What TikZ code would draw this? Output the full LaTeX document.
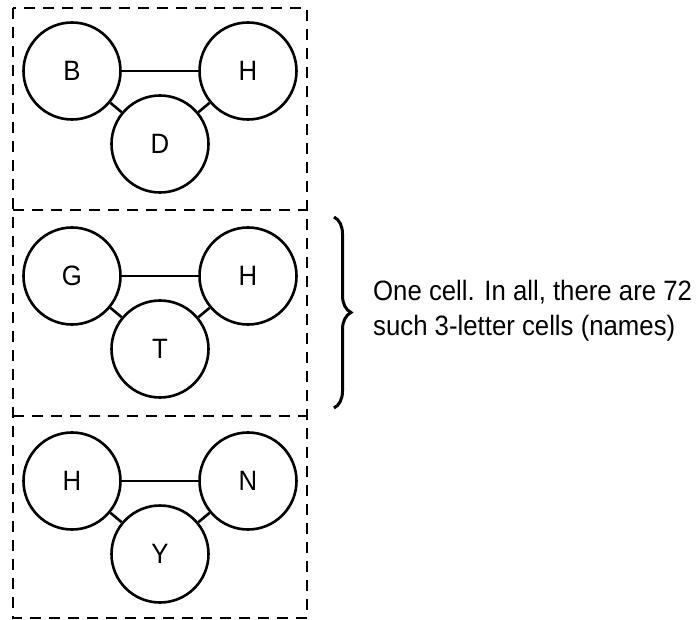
\documentclass[tikz,border=0pt]{standalone}
\usepackage{fontspec}
\setmainfont{Liberation Sans}[FakeStretch=0.92]
\usetikzlibrary{decorations.pathreplacing}

\tikzset{
  letter/.style={draw,circle,minimum size=97pt,inner sep=0pt,line width=2.6pt,
    font=\fontsize{28}{32}\selectfont},
  cellbox/.style={line width=2.6pt,dash pattern=on 11pt off 8pt},
  note/.style={anchor=base west,inner sep=0pt,font=\fontsize{28}{32}\selectfont}
}

\begin{document}
\begin{tikzpicture}[x=1pt,y=-1pt]
\useasboundingbox (0,0) rectangle (699,620);
% the three cells
\draw[cellbox](13,8)rectangle(307,618);
\draw[cellbox](13,210)--(307,210);
\draw[cellbox](13,416)--(307,416);
\foreach \r/\p/\q/\s/\k in {71/B/H/D/1,276/G/H/T/2,481/H/N/Y/3}{
  \node[letter](l\k)at(72,\r){\p};
  \node[letter](r\k)at(248,\r){\q};
  \node[letter](m\k)at(160,\r+73){\s};
  \draw[line width=2.6pt](l\k)--(r\k);
  \draw[line width=2.6pt](l\k)--(m\k);
  \draw[line width=2.6pt](r\k)--(m\k);
}
% brace and note
\coordinate(bt)at(334,217);
\coordinate(bb)at(334,408);
\draw[line width=3pt,decorate,decoration={brace,amplitude=17pt}](bt)--(bb);
\node[note](n1)at(373,301){One cell. In all, there are 72};
\node[note](n2)at(373,336){such 3-letter cells (names)};
\end{tikzpicture}
\end{document}
